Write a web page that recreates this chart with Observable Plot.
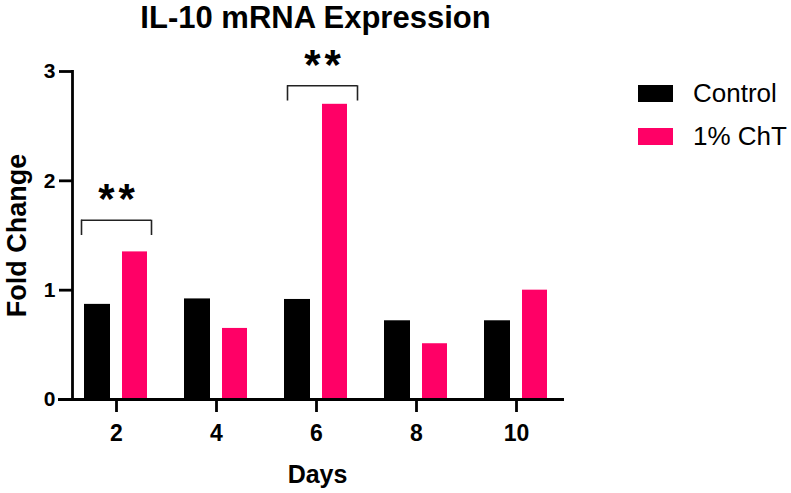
<!DOCTYPE html>
<html><head><meta charset="utf-8">
<script src="https://cdn.jsdelivr.net/npm/d3@7"></script>
<script src="https://cdn.jsdelivr.net/npm/@observablehq/plot@0.6"></script>
<style>
html,body{margin:0;padding:0;background:#fff;}
#wrap{position:relative;width:791px;height:493px;overflow:hidden;font-family:"Liberation Sans",Arial,sans-serif;}
.sw{position:absolute;width:35px;height:17px;}
.lt{position:absolute;font-size:26px;line-height:26px;color:#000;white-space:nowrap;}
</style></head><body>
<div id="wrap"><div id="chart"></div><div id="legend"></div></div>
<script>
const days = [2, 4, 6, 8, 10];
const seriesNames = ["Control", "1% ChT"];
const controlValues = [0.87, 0.92, 0.915, 0.72, 0.72];
const chtValues = [1.35, 0.65, 2.70, 0.51, 1.00];
const yTicks = [0, 1, 2, 3];
const sigDays = [2, 6];
const sigLabels = ["**", "**"];
const bracketTop = [1.64, 2.87];
const bracketFoot = [1.50, 2.73];
const starY = [1.83, 3.05];
const colors = ["#000000", "#ff0066"];
const titleText = ["IL-10 mRNA Expression"];
const xLabel = ["Days"];
const yLabel = ["Fold Change"];

const rows = days.map((day, i) => ({day, control: controlValues[i], cht: chtValues[i]}));
const sig = sigDays.map((day, i) => ({day, label: sigLabels[i], top: bracketTop[i], foot: bracketFoot[i], star: starY[i]}));

const sigMarks = sig.flatMap((s, i) => {
  const shift = i === 0 ? 0 : 6;
  return [
    Plot.tickY([s], {x: "day", y: "top", stroke: "#222", strokeWidth: 1.6, insetLeft: 15, insetRight: 15, dx: shift}),
    Plot.ruleX([s], {x: "day", y1: "foot", y2: "top", stroke: "#222", strokeWidth: 1.6, dx: shift - 35}),
    Plot.ruleX([s], {x: "day", y1: "foot", y2: "top", stroke: "#222", strokeWidth: 1.6, dx: shift + 35}),
    Plot.text([s], {x: "day", y: "star", text: "label", fontSize: 42, fontWeight: "bold", dx: shift + 2, fill: "#000"})
  ];
});

const chart = Plot.plot({
  width: 791, height: 493,
  marginTop: 71, marginBottom: 94, marginLeft: 72, marginRight: 225,
  style: {fontFamily: "'Liberation Sans', Arial, sans-serif", fontSize: "21px", fontWeight: "bold", color: "#000", background: "#fff", overflow: "visible"},
  x: {type: "band", domain: days, range: [66, 566], padding: 0},
  y: {domain: [0, 3]},
  marks: [
    Plot.barY(rows, {x: "day", y: "control", fill: colors[0], insetLeft: 18, insetRight: 56}),
    Plot.barY(rows, {x: "day", y: "cht", fill: colors[1], insetLeft: 56, insetRight: 19}),
    Plot.axisX({tickSize: 13, tickPadding: 12, fontSize: 23, fontWeight: "bold", strokeWidth: 2.8, label: null, fill: "#000", stroke: "#000"}),
    Plot.axisY({ticks: yTicks, tickSize: 13, tickPadding: 4, fontSize: 21, fontWeight: "bold", strokeWidth: 2.8, label: null, tickFormat: d3.format("d"), fill: "#000", stroke: "#000"}),
    Plot.frame({anchor: "left", stroke: "#000", strokeWidth: 2.8}),
    Plot.ruleY([0], {stroke: "#000", strokeWidth: 2.8, insetLeft: -14, insetRight: 2}),
    ...sigMarks,
    Plot.text(titleText, {frameAnchor: "top", text: d => d, fontSize: 31, fontWeight: "bold", lineAnchor: "bottom", dy: -44, dx: -4, fill: "#000"}),
    Plot.text(xLabel, {frameAnchor: "bottom", text: d => d, fontSize: 25, fontWeight: "bold", lineAnchor: "bottom", dy: 83, dx: -2, fill: "#000"}),
    Plot.text(yLabel, {frameAnchor: "left", text: d => d, fontSize: 27, fontWeight: "bold", lineAnchor: "bottom", textAnchor: "middle", rotate: -90, dx: -47, fill: "#000"})
  ]
});
chart.querySelectorAll("text").forEach(t => {
  if (t.textContent === "**") t.setAttribute("letter-spacing", "4");
});
document.getElementById("chart").appendChild(chart);

const legend = document.getElementById("legend");
seriesNames.forEach((name, i) => {
  const sw = document.createElement("div");
  sw.className = "sw";
  sw.style.left = "638px";
  sw.style.top = (85 + i * 43) + "px";
  sw.style.background = colors[i];
  legend.appendChild(sw);
  const t = document.createElement("div");
  t.className = "lt";
  t.style.left = "693px";
  t.style.top = (80 + i * 43) + "px";
  t.textContent = name;
  legend.appendChild(t);
});
</script>
</body></html>
